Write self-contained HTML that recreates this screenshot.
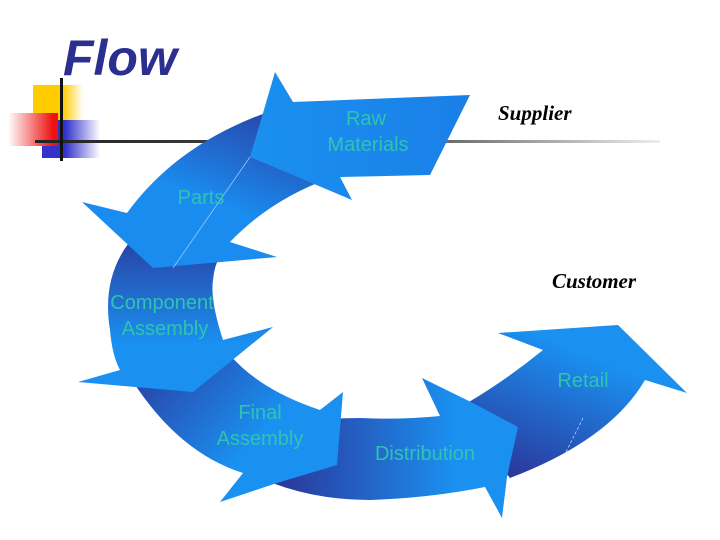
<!DOCTYPE html>
<html><head><style>
body{margin:0;background:#fff;}
svg{display:block;}
</style></head><body>
<svg width="720" height="540" viewBox="0 0 720 540" xmlns="http://www.w3.org/2000/svg">
<defs>
<linearGradient id="yl" x1="0" x2="1"><stop offset="0.6" stop-color="#ffcc00"/><stop offset="1" stop-color="#fff"/></linearGradient>
<linearGradient id="rd" x1="1" x2="0"><stop offset="0.1" stop-color="#ee1111"/><stop offset="1" stop-color="#fff"/></linearGradient>
<linearGradient id="bl" x1="0" x2="1"><stop offset="0.4" stop-color="#3333cc"/><stop offset="1" stop-color="#fff"/></linearGradient>
<linearGradient id="ln" x1="0" x2="1"><stop offset="0" stop-color="#222"/><stop offset="0.6" stop-color="#555"/><stop offset="1" stop-color="#eee"/></linearGradient>
<linearGradient id="gTop" x1="1" y1="0.5" x2="0" y2="0.5"><stop offset="0" stop-color="#1a7fe8"/><stop offset="1" stop-color="#1a90f0"/></linearGradient>
<linearGradient id="gParts" x1="0.9" y1="0" x2="0.3" y2="1"><stop offset="0" stop-color="#2b3a9e"/><stop offset="0.6" stop-color="#1a8cf0"/></linearGradient>
<linearGradient id="gComp" x1="0.5" y1="0" x2="0.5" y2="1"><stop offset="0" stop-color="#2b3a9e"/><stop offset="0.7" stop-color="#1a90f0"/></linearGradient>
<linearGradient id="gFinal" x1="0" y1="0" x2="1" y2="0.6"><stop offset="0.05" stop-color="#2b3a9e"/><stop offset="0.7" stop-color="#1a90f0"/></linearGradient>
<linearGradient id="gDist" x1="0" y1="0.5" x2="1" y2="0.5"><stop offset="0.1" stop-color="#2b3a9e"/><stop offset="0.75" stop-color="#1a90f0"/></linearGradient>
<linearGradient id="gRet" x1="0.2" y1="1" x2="0.8" y2="0"><stop offset="0.05" stop-color="#2b3a9e"/><stop offset="0.75" stop-color="#1a90f0"/></linearGradient>
</defs>
<rect x="33" y="85" width="50" height="36" fill="url(#yl)"/>
<rect x="42" y="120" width="58" height="38" fill="url(#bl)"/>
<rect x="8" y="113" width="50" height="33" fill="url(#rd)"/>
<rect x="35" y="140" width="625" height="3" fill="url(#ln)"/>
<rect x="60" y="78" width="3" height="83" fill="#111"/>
<text x="63" y="75" font-family="Liberation Sans, sans-serif" font-size="50" font-weight="bold" font-style="italic" fill="#2b2f8f">Flow</text>

<!-- Retail -->
<path d="M455,410 Q500,385 543,350 L498,333 L618,325 L687,393 L645,380 Q610,440 510,478 Z" fill="url(#gRet)"/>
<!-- Distribution -->
<path d="M260,430 Q300,418 360,418 Q400,420 440,416 L422,378 L473,403 L518,427 L507,477 L502,518 L485,487 Q430,498 370,500 Q310,500 260,478 Z" fill="url(#gDist)"/>
<!-- Final Assembly -->
<path d="M120,360 Q170,450 243,473 L220,502 L277,483 L337,465 L343,392 L320,410 Q260,390 230,355 Z" fill="url(#gFinal)"/>
<!-- Component -->
<path d="M140,230 Q100,270 110,330 Q112,355 120,370 L78,382 L193,392 L273,327 L223,340 Q210,300 213,280 Q215,255 235,235 Z" fill="url(#gComp)"/>
<!-- Parts -->
<path d="M280,108 Q180,140 127,213 L82,202 L153,268 L277,257 L230,242 Q270,200 330,178 Z" fill="url(#gParts)"/>
<!-- Raw Materials -->
<polygon points="275,72 293,102 470,95 430,175 340,177 352,200 250,157 263,113" fill="url(#gTop)"/>
<line x1="250" y1="157" x2="173" y2="268" stroke="#9fd0ff" stroke-width="0.7"/>
<line x1="583" y1="418" x2="566" y2="452" stroke="#cfe6ff" stroke-width="0.7" stroke-dasharray="3,2"/>

<g font-family="Liberation Sans, sans-serif" font-size="20" fill="#2fc4b0" text-anchor="middle">
<text x="366" y="125">Raw</text><text x="368" y="151">Materials</text>
<text x="201" y="204">Parts</text>
<text x="162" y="309">Component</text><text x="165" y="335">Assembly</text>
<text x="260" y="419">Final</text><text x="260" y="445">Assembly</text>
<text x="425" y="460">Distribution</text>
<text x="583" y="387">Retail</text>
</g>
<g font-family="Liberation Serif, serif" font-size="21" font-weight="bold" font-style="italic" fill="#000">
<text x="498" y="120">Supplier</text>
<text x="552" y="288">Customer</text>
</g>
</svg>
</body></html>
